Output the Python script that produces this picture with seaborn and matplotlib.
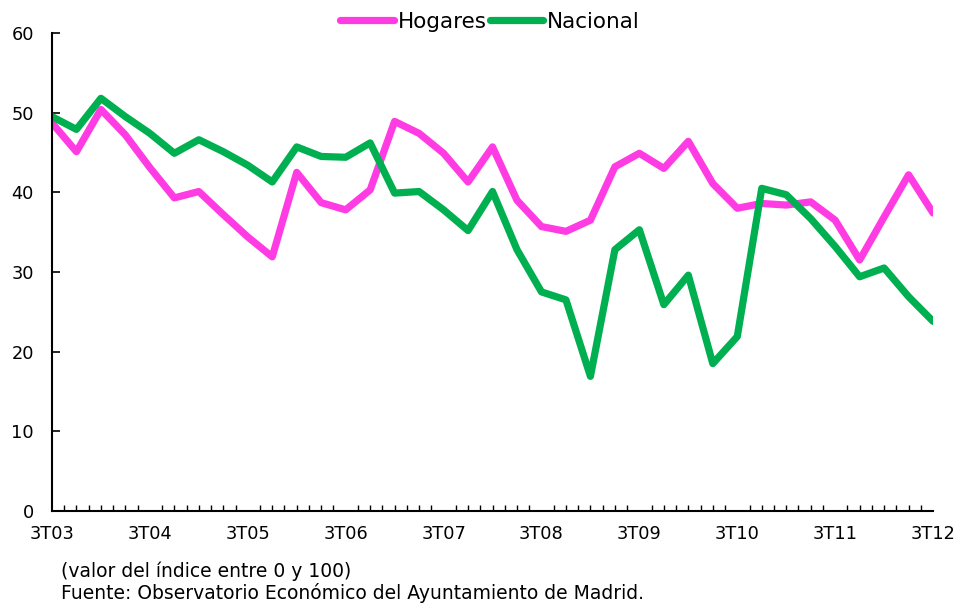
import numpy as np
import pandas as pd
import matplotlib
matplotlib.use("Agg")
import matplotlib.pyplot as plt
import seaborn as sns
from matplotlib.ticker import MultipleLocator

# trimestres 3T03 .. 3T12
trimestres = np.arange(37)
etiquetas = ["3T03", "3T04", "3T05", "3T06", "3T07", "3T08", "3T09", "3T10", "3T11", "3T12"]

hogares = [48.7, 45.1, 50.4, 47.2, 43.1, 39.3, 40.1, 37.2, 34.4, 31.9,
           42.5, 38.7, 37.8, 40.3, 48.9, 47.4, 44.9, 41.3, 45.7, 39.0,
           35.7, 35.1, 36.5, 43.2, 44.9, 43.0, 46.4, 41.1, 38.0, 38.6,
           38.4, 38.8, 36.5, 31.5, 36.9, 42.2, 37.4]
nacional = [49.5, 47.9, 51.8, 49.5, 47.4, 44.9, 46.6, 45.1, 43.4, 41.3,
            45.7, 44.5, 44.4, 46.2, 39.9, 40.1, 37.8, 35.2, 40.1, 32.8,
            27.5, 26.5, 16.9, 32.8, 35.3, 25.9, 29.6, 18.5, 21.9, 40.5,
            39.7, 36.7, 33.2, 29.4, 30.5, 26.9, 23.8]

df = pd.DataFrame({
    "t": np.concatenate([trimestres, trimestres]),
    "valor": hogares + nacional,
    "serie": ["Hogares"] * len(hogares) + ["Nacional"] * len(nacional),
})

sns.set_theme(style="white")
plt.rcParams["font.family"] = ["DejaVu Sans"]
plt.rcParams["text.color"] = "black"

fig = plt.figure(figsize=(9.57, 6.03), dpi=100)
ax = fig.add_axes([0.0543, 0.1526, 0.9207, 0.7927])

sns.lineplot(data=df, x="t", y="valor", hue="serie",
             palette={"Hogares": "#FF3BE3", "Nacional": "#00B050"},
             linewidth=5.2, ax=ax, solid_capstyle="round", solid_joinstyle="round")

ax.set_xlim(0, 36)
ax.set_ylim(0, 60)
ax.set_xlabel("")
ax.set_ylabel("")

ax.set_xticks(np.arange(0, 37, 4))
ax.set_xticklabels(etiquetas)
ax.xaxis.set_minor_locator(MultipleLocator(0.5))
ax.set_yticks(np.arange(0, 61, 10))

ax.tick_params(axis="x", which="major", length=0, pad=10, labelsize=12.8, colors="black")
ax.tick_params(axis="x", which="minor", direction="in", length=4, width=1, bottom=True, color="black")
ax.tick_params(axis="y", direction="in", length=6, width=1.2, left=True, pad=13, labelsize=12.8, colors="black")

for s in ["top", "right"]:
    ax.spines[s].set_visible(False)
for s in ["left", "bottom"]:
    ax.spines[s].set_color("black")
    ax.spines[s].set_linewidth(1.5)

leg = ax.legend(loc="lower center", bbox_to_anchor=(0.497, 0.985), ncol=2, frameon=False,
                fontsize=15.5, handlelength=2.5, handletextpad=0.15, columnspacing=0.15,
                borderaxespad=0)
for ln in leg.get_lines():
    ln.set_linewidth(5.2)
    ln.set_solid_capstyle("round")
for txt in leg.get_texts():
    txt.set_color("black")

fig.text(0.064, 0.052, "(valor del índice entre 0 y 100)", fontsize=13.5, ha="left", va="center",
         color="black")
fig.text(0.064, 0.017, "Fuente: Observatorio Económico del Ayuntamiento de Madrid.", fontsize=13.5,
         ha="left", va="center", color="black")

fig.savefig("out.png", dpi=100)
